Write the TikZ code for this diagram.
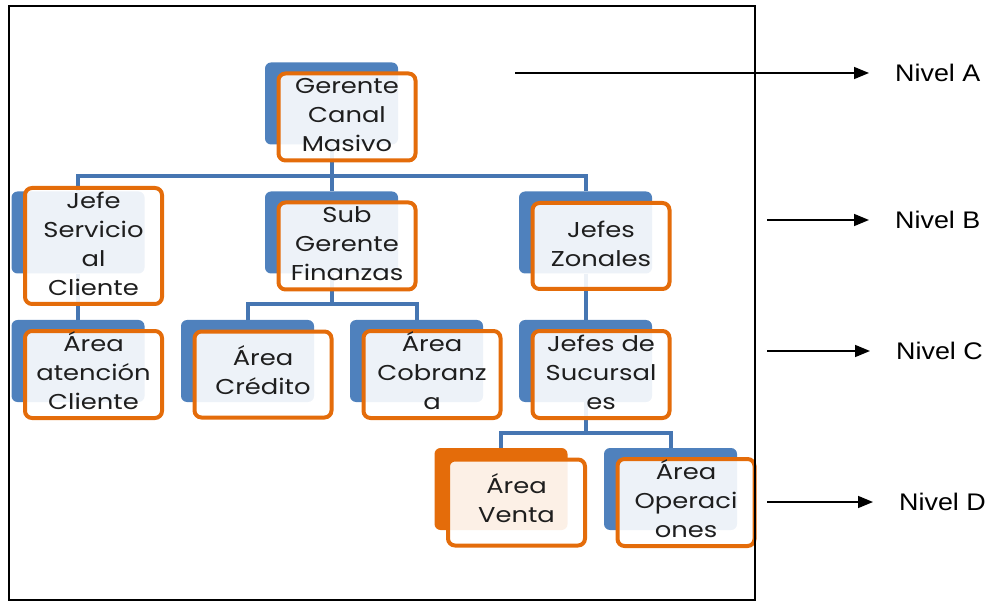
\documentclass[tikz,border=0pt]{standalone}
\usepackage{fontspec}
\usepackage{graphicx}
\usetikzlibrary{arrows.meta,calc}
\newfontfamily\boxfamily{Poppins}
\newfontfamily\nivelfamily{Liberation Sans}
\newcommand\boxfont{\boxfamily\fontsize{21.5}{29}\selectfont}
\newcommand\nivelfont{\nivelfamily\fontsize{24}{28}\selectfont}
\newcommand\ntext[1]{\scalebox{1.2}[1]{\begin{tabular}{@{}c@{}}#1\end{tabular}}}
\newcommand\ltext[1]{\scalebox{1.12}[1]{#1}}

\definecolor{blueback}{HTML}{4F81BD}
\definecolor{orangeline}{HTML}{E46C0A}
\definecolor{linkblue}{HTML}{4676B2}
\definecolor{inktext}{HTML}{1E1E1E}

\pgfdeclarelayer{background}
\pgfsetlayers{background,main}

\tikzset{
  backbox/.style={draw=none, fill=blueback, rounded corners=6pt,
    minimum width=133pt, minimum height=82pt, inner sep=0pt},
  frontbox/.style={draw=orangeline, line width=4pt, fill=white,
    fill opacity=0.9, text opacity=1, rounded corners=7pt,
    minimum width=137pt, minimum height=86pt, inner sep=0pt,
    font=\boxfont, text=inktext},
  conn/.style={draw=linkblue, line width=4pt},
  levelarrow/.style={-{Triangle[length=15pt,width=12pt]}, line width=1.5pt},
  leveltext/.style={anchor=west, inner sep=0pt, font=\nivelfont}
}

% one unit of the chart: coloured back plate plus framed, translucent front card
\newcommand\orgunit[5][blueback]{%
  \node[backbox, fill=#1] (#2B) at (#3,#4) {};
  \node[frontbox] (#2) at ([shift={(15.5,13.5)}]#2B.center) {\ntext{#5}};
}

\begin{document}
\begin{tikzpicture}[x=1pt,y=-1pt]
\useasboundingbox (0,0) rectangle (987,601);

% level A
\orgunit{ger}{331.5}{103.5}{Gerente\\Canal\\Masivo}
% level B
\orgunit{jsc}{78}{232.5}{Jefe\\Servicio\\al\\Cliente}
\orgunit{sgf}{331.5}{232.5}{Sub\\Gerente\\Finanzas}
\orgunit{jz}{585.5}{232.5}{Jefes\\Zonales}
% level C
\orgunit{aac}{78}{361}{Área\\atención\\Cliente}
\orgunit{acr}{247.5}{361}{Área\\Crédito}
\orgunit{aco}{416.5}{361}{Área\\Cobranz\\a}
\orgunit{jds}{585.5}{361}{Jefes de\\Sucursal\\es}
% level D
\orgunit[orangeline]{ave}{501}{489}{Área\\Venta}
\orgunit{aop}{670.5}{489}{Área\\Operaci\\ones}

% connectors, kept behind the cards
\coordinate (barA) at (331.5,176);
\coordinate (barB) at (331.5,304);
\coordinate (barC) at (585.5,433);
\begin{pgfonlayer}{background}
  \draw[conn] (gerB.south) -- (sgfB.north);
  \draw[conn] (jscB.north) |- (barA) -| (jzB.north);
  \draw[conn] (jscB.south) -- (aacB.north);
  \draw[conn] (sgfB.south) -- (barB);
  \draw[conn] (acrB.north) |- (barB) -| (acoB.north);
  \draw[conn] (jzB.south) -- (jdsB.north);
  \draw[conn] (jdsB.south) -- (barC);
  \draw[conn] (aveB.north) |- (barC) -| (aopB.north);
\end{pgfonlayer}

% outer frame
\draw[line width=2pt] (9,6) rectangle (755,600);

% level labels
\node[leveltext] (nivA) at (895,73) {\ltext{Nivel A}};
\node[leveltext] (nivB) at (895,220) {\ltext{Nivel B}};
\node[leveltext] (nivC) at (896,351) {\ltext{Nivel C}};
\node[leveltext] (nivD) at (899,502) {\ltext{Nivel D}};

\coordinate (startA) at (515,73);
\coordinate (startB) at (767,220);
\coordinate (startC) at (767,351);
\coordinate (startD) at (767,502);
\draw[levelarrow, shorten >=26pt] (startA) -- (nivA.west);
\draw[levelarrow, shorten >=26pt] (startB) -- (nivB.west);
\draw[levelarrow, shorten >=26pt] (startC) -- (nivC.west);
\draw[levelarrow, shorten >=26pt] (startD) -- (nivD.west);
\end{tikzpicture}
\end{document}
